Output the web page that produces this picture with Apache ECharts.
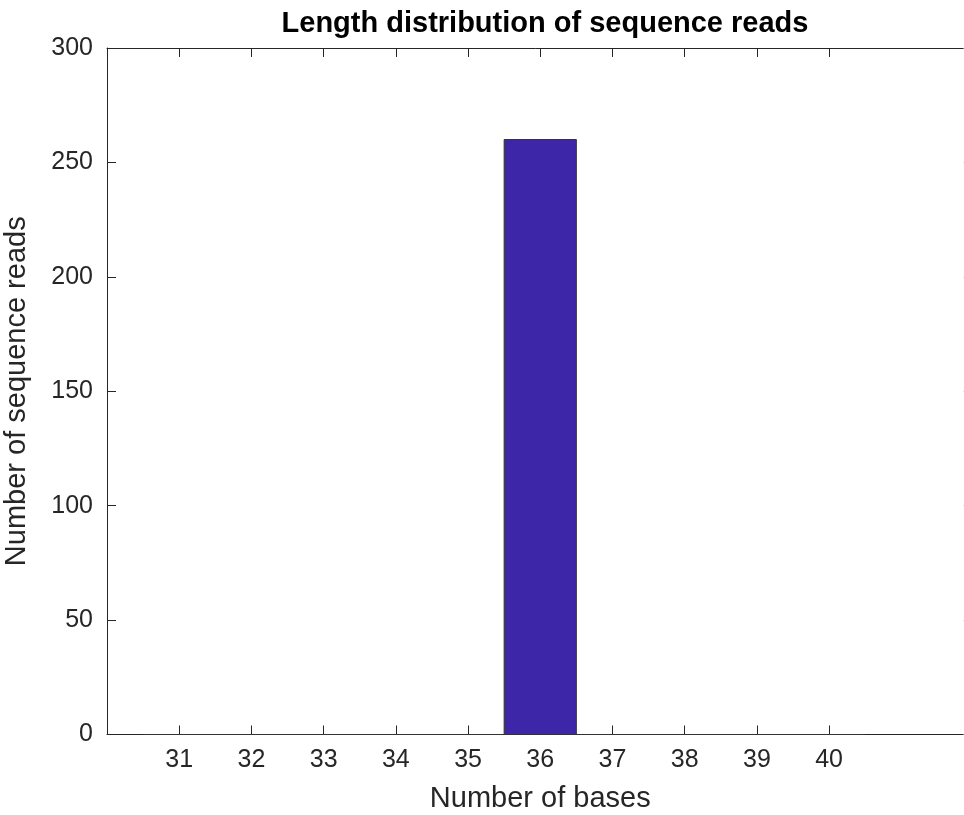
<!DOCTYPE html>
<html>
<head>
<meta charset="utf-8">
<script src="https://cdn.jsdelivr.net/npm/echarts@6/dist/echarts.min.js"></script>
<style>
html,body{margin:0;padding:0;background:#fff;overflow:hidden;}
#chart{width:964px;height:815px;}
</style>
</head>
<body>
<div id="chart"></div>
<script>
const titleText = 'Length distribution of sequence reads';
const xName = 'Number of bases';
const yName = 'Number of sequence reads';
const categories = [31, 32, 33, 34, 35, 36, 37, 38, 39, 40];
const counts = [0, 0, 0, 0, 0, 260, 0, 0, 0, 0];
const xTicks = [31, 32, 33, 34, 35, 36, 37, 38, 39, 40];
const yTicks = [0, 50, 100, 150, 200, 250, 300];

const FONT = "'Liberation Sans', Arial, Helvetica, sans-serif";
const AX = '#262626';
const data = categories.map((c, i) => [c, counts[i]]);

const chart = echarts.init(document.getElementById('chart'), null, {renderer: 'canvas'});
chart.setOption({
  animation: false,
  backgroundColor: '#ffffff',
  title: {
    text: titleText,
    left: 540,
    textAlign: 'center',
    top: 4,
    textStyle: {fontFamily: FONT, fontSize: 29, fontWeight: 'bold', color: '#000'}
  },
  grid: {left: 107, top: 48, width: 866.5, height: 686.5, containLabel: false, outerBoundsMode: 'none'},
  xAxis: [{
    type: 'value', position: 'bottom', min: 30, max: 42, interval: 1,
    name: xName, nameLocation: 'middle', nameGap: 50,
    nameTextStyle: {fontFamily: FONT, fontSize: 29, color: AX},
    axisLine: {show: true, onZero: false, lineStyle: {color: AX, width: 1}},
    axisTick: {show: true, inside: true, length: 9, customValues: xTicks, lineStyle: {color: AX, width: 1}},
    axisLabel: {show: true, customValues: xTicks, margin: 13, fontFamily: FONT, fontSize: 25, color: AX},
    splitLine: {show: false}
  }, {
    type: 'value', position: 'top', min: 30, max: 42, interval: 1,
    axisLine: {show: true, onZero: false, lineStyle: {color: AX, width: 1}},
    axisTick: {show: true, inside: true, length: 9, customValues: xTicks, lineStyle: {color: AX, width: 1}},
    axisLabel: {show: false},
    splitLine: {show: false}
  }],
  yAxis: [{
    type: 'value', position: 'left', min: 0, max: 300, interval: 50,
    name: yName, nameLocation: 'middle', nameGap: 76, nameRotate: 90,
    nameTextStyle: {fontFamily: FONT, fontSize: 29, color: AX},
    axisLine: {show: true, onZero: false, lineStyle: {color: AX, width: 1}},
    axisTick: {show: true, inside: true, length: 9, customValues: yTicks, lineStyle: {color: AX, width: 1}},
    axisLabel: {show: true, customValues: yTicks, margin: 14, fontFamily: FONT, fontSize: 25, color: AX},
    splitLine: {show: false}
  }, {
    type: 'value', position: 'right', min: 0, max: 300, interval: 50,
    axisLine: {show: false},
    axisTick: {show: true, inside: true, length: 10, customValues: yTicks, lineStyle: {color: '#bbbbbb', width: 1}},
    axisLabel: {show: false},
    splitLine: {show: false}
  }],
  series: [{
    type: 'custom',
    xAxisIndex: 0,
    yAxisIndex: 0,
    data: data,
    encode: {x: 0, y: 1},
    renderItem: function (params, api) {
      const x = api.value(0), v = api.value(1);
      const p0 = api.coord([x - 0.5, 0]);
      const p1 = api.coord([x + 0.5, v]);
      return {
        type: 'rect',
        shape: {x: p0[0], y: p1[1], width: p1[0] - p0[0], height: p0[1] - p1[1]},
        style: {fill: '#3E26A8', stroke: '#333333', lineWidth: 1}
      };
    }
  }]
});
</script>
</body>
</html>
